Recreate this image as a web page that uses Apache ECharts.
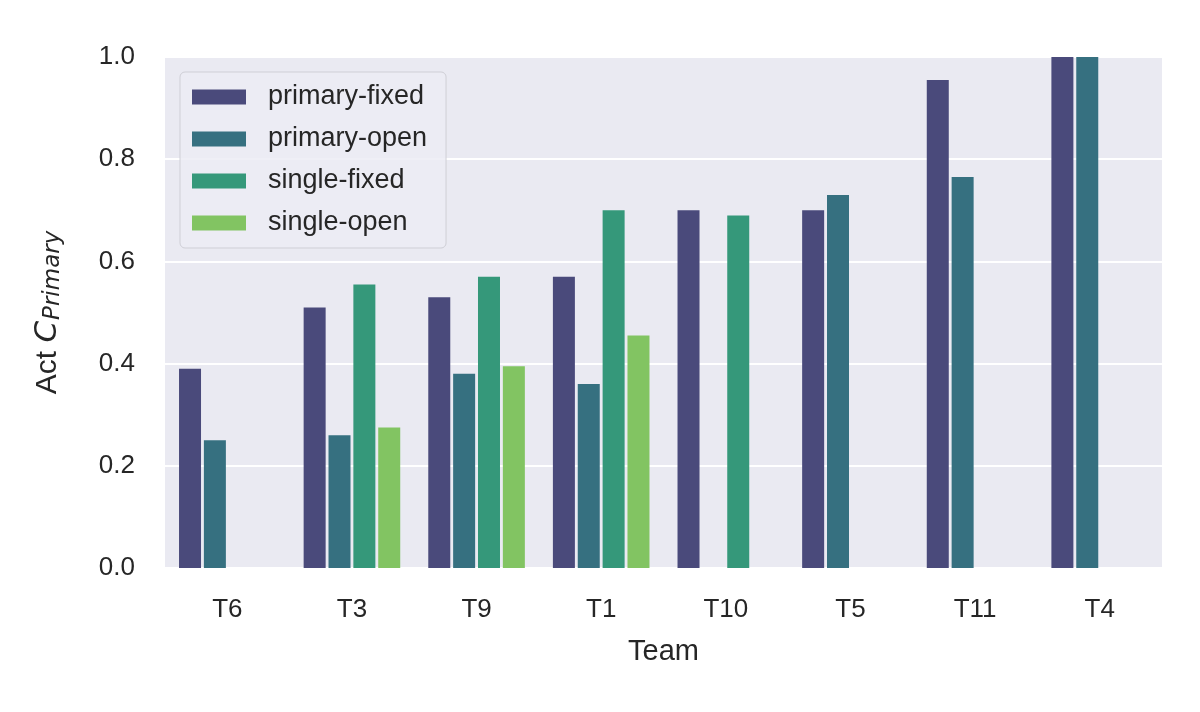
<!DOCTYPE html>
<html lang="en">
<head>
    <meta charset="UTF-8">
    <title>Act C Primary by team</title>
    <style>
        html, body { margin: 0; padding: 0; background: #ffffff; }
    </style>
</head>
<body>
<div id="main" style="width: 1200px;height:712px;"></div>
<script type="text/javascript" src="https://cdn.jsdelivr.net/npm/echarts@6/dist/echarts.min.js"></script>
<script type="text/javascript">
    // data
    var teams = ['T6', 'T3', 'T9', 'T1', 'T10', 'T5', 'T11', 'T4'];
    var seriesNames = ['primary-fixed', 'primary-open', 'single-fixed', 'single-open'];
    var primaryFixed = [0.39, 0.51, 0.53, 0.57, 0.70, 0.70, 0.955, 1.0];
    var primaryOpen  = [0.25, 0.26, 0.38, 0.36, null, 0.73, 0.765, 1.0];
    var singleFixed  = [null, 0.555, 0.57, 0.70, 0.69, null, null, null];
    var singleOpen   = [null, 0.275, 0.395, 0.455, null, null, null, null];
    var yTicks = [0, 0.2, 0.4, 0.6, 0.8, 1.0];

    var colors = ['#4a4a7b', '#367080', '#35987a', '#82c462'];
    var allValues = [primaryFixed, primaryOpen, singleFixed, singleOpen];
    var textColor = '#262626';
    var font = 'Liberation Sans, Arial, sans-serif';
    var mathFont = 'DejaVu Sans, sans-serif';

    var myChart = echarts.init(document.getElementById('main'));

    var series = seriesNames.map(function (name, i) {
        return {
            name: name,
            type: 'bar',
            data: allValues[i],
            barWidth: 22,
            barGap: '13%',
            itemStyle: { color: colors[i] }
        };
    });

    var option = {
        animation: false,
        textStyle: { fontFamily: font },
        grid: {
            left: 165,
            right: 38,
            top: 57,
            bottom: 144,
            show: true,
            backgroundColor: '#eaeaf2',
            borderWidth: 0
        },
        legend: {
            data: seriesNames,
            orient: 'vertical',
            left: 180,
            top: 72,
            padding: [11, 19, 11, 12],
            itemWidth: 54,
            itemHeight: 15,
            itemGap: 14,
            icon: 'rect',
            backgroundColor: 'rgba(236,236,244,0.85)',
            borderColor: '#cfcfd6',
            borderWidth: 1,
            borderRadius: 5,
            textStyle: {
                color: textColor,
                fontSize: 27,
                fontFamily: font,
                lineHeight: 28,
                padding: [0, 0, 0, 17]
            }
        },
        xAxis: {
            type: 'category',
            data: teams,
            name: 'Team',
            nameLocation: 'middle',
            nameGap: 69,
            nameTextStyle: { color: textColor, fontSize: 29, fontFamily: font },
            axisLine: { show: false },
            axisTick: { show: false },
            axisLabel: { color: textColor, fontSize: 26, margin: 29, fontFamily: font },
            splitLine: { show: false }
        },
        yAxis: {
            type: 'value',
            min: 0,
            max: 1,
            interval: 0.2,
            name: '{a|Act }{c|C}{s|Primary}',
            nameLocation: 'middle',
            nameGap: 100,
            nameTextStyle: {
                color: textColor,
                fontFamily: font,
                rich: {
                    a: { fontSize: 30, color: textColor, fontFamily: font },
                    c: { fontSize: 31, fontStyle: 'italic', color: textColor, fontFamily: mathFont },
                    s: { fontSize: 23, fontStyle: 'italic', color: textColor, fontFamily: mathFont, verticalAlign: 'bottom', padding: [12, 0, 0, 1] }
                }
            },
            axisLine: { show: false },
            axisTick: { show: false },
            axisLabel: {
                color: textColor,
                fontSize: 26,
                margin: 30,
                fontFamily: font,
                formatter: function (v) {
                    for (var k = 0; k < yTicks.length; k++) {
                        if (Math.abs(yTicks[k] - v) < 1e-9) return yTicks[k].toFixed(1);
                    }
                    return '';
                }
            },
            splitLine: { show: true, lineStyle: { color: '#ffffff', width: 2 } }
        },
        series: series
    };
    myChart.setOption(option);
</script>
</body>
</html>
